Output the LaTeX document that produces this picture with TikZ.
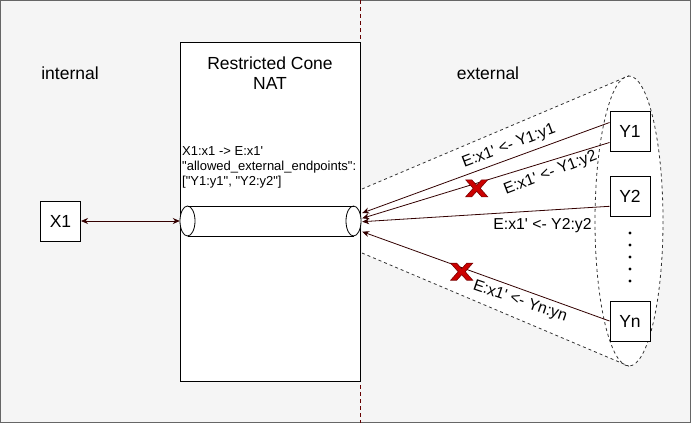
\documentclass[tikz,border=0pt]{standalone}
\usepackage{fontspec}
\setmainfont{Liberation Sans}[Ligatures=TeXOff]
\usetikzlibrary{calc,arrows.meta,shapes.geometric}
\definecolor{bgc}{HTML}{F5F5F5}
\definecolor{brd}{HTML}{666666}
\definecolor{arr}{HTML}{330000}
\definecolor{sep}{HTML}{660000}
\definecolor{xred}{HTML}{CC0000}
\definecolor{xdark}{HTML}{7A0000}
\definecolor{dashc}{HTML}{333333}
\tikzset{
  xmark/.pic={\filldraw[fill=xred, draw=xdark, line width=0.6pt]
    (-11,-8.5) -- (-5,-8.5) -- (0,-3) -- (5,-8.5) -- (11,-8.5) -- (3.5,0) -- (11,8.5)
    -- (5,8.5) -- (0,3) -- (-5,8.5) -- (-11,8.5) -- (-3.5,0) -- cycle;}
}
\begin{document}
\begin{tikzpicture}[x=1pt,y=-1pt,
  big/.style={font=\fontsize{17.5}{20.5}\selectfont},
  small/.style={font=\fontsize{13}{15}\selectfont},
  lbl/.style={font=\fontsize{15.8}{18}\selectfont, inner sep=1pt},
  box/.style={draw=black, fill=white, line width=1pt, minimum width=40pt, minimum height=40pt, inner sep=0pt, big},
  link/.style={draw=arr, line width=0.8pt, -{Stealth[length=7pt,width=6pt]}},
  conedash/.style={draw=dashc, line width=0.8pt, dash pattern=on 3pt off 3pt}
]
\useasboundingbox (0,0) rectangle (691,423);
\draw[brd, fill=bgc, line width=1pt] (0.5,0.5) rectangle (690.5,422.5);
\draw[sep, dash pattern=on 4pt off 3pt, line width=0.8pt] (360.5,0) -- (360.5,423);

% NAT box
\node[draw=black, fill=white, line width=1pt, minimum width=180pt, minimum height=339pt, inner sep=0pt, anchor=north west] (nat) at (180,42) {};
\node[big, align=center] (title) at (270,73) {Restricted Cone\\NAT};
\node[small, align=left, anchor=west, inner sep=0pt] (rule) at (182,167.5) {X1:x1 -> E:x1'\\{}"allowed\_external\_endpoints":\\{}["Y1:y1", "Y2:y2"]};

% side labels
\node[big] (int) at (70,73) {internal};
\node[big] (ext) at (488,73) {external};

% cone
\node[ellipse, minimum width=68pt, minimum height=290pt, inner sep=0pt] (grp) at (629,221) {};
\fill[white] (362,189) -- (grp.north) -- (grp.south) -- (362,253) -- cycle;
\fill[white] (629,221) ellipse [x radius=34, y radius=145];
\draw[conedash] (362,189) -- (grp.north);
\draw[conedash] (362,253) -- (grp.south);
\draw[conedash] (629,221) ellipse [x radius=34, y radius=145];

% Y boxes
\node[box] (y1) at (630,131.5) {Y1};
\node[box] (y2) at (630,196.3) {Y2};
\node[box] (yn) at (630,321) {Yn};
\foreach \yy in {233,245,257,269,281} \fill (630,\yy) circle (1.6);

% X1 box
\node[box] (x1) at (60.5,221) {X1};

% cylinder
\node[minimum width=181pt, minimum height=30pt, inner sep=0pt] (cyl) at (270.5,221) {};
\fill[white] (187.5,206) rectangle (353.5,236);
\fill[white] (187.5,221) ellipse [x radius=7.5, y radius=15];
\fill[white] (353.5,221) ellipse [x radius=7.5, y radius=15];
\draw[line width=0.8pt] (187.5,206) -- (353.5,206) (187.5,236) -- (353.5,236);
\draw[line width=0.8pt] (187.5,221) ellipse [x radius=7.5, y radius=15];
\draw[line width=0.8pt] (353.5,221) ellipse [x radius=7.5, y radius=15];

% connectors
\draw[link, {Stealth[length=7pt,width=6pt]}-{Stealth[length=7pt,width=6pt]}] (x1.east) -- (cyl.west);
\draw[link] ($(y1.west)+(0,-9)$) -- ($(cyl.east)+(1,-8)$);
\draw[link] ($(y1.west)+(0,11)$) -- ($(cyl.east)+(1,-2.7)$);
\draw[link] ($(y2.west)+(0,10)$) -- ($(cyl.east)+(1,0.7)$);
\draw[link] (yn.west) -- ($(cyl.east)+(1,10.7)$);

% labels
\node[lbl, rotate=21] (l1) at (509,146.5) {E:x1' <- Y1:y1};
\node[lbl, rotate=21] (l2) at (550.5,173.3) {E:x1' <- Y1:y2};
\node[lbl] (l3) at (542.5,226) {E:x1' <- Y2:y2};
\node[lbl, rotate=-19] (l4) at (520,301.7) {E:x1' <- Yn:yn};

% crosses
\pic at (476.7,188.3) {xmark};
\pic at (461.7,271.7) {xmark};
\end{tikzpicture}
\end{document}
